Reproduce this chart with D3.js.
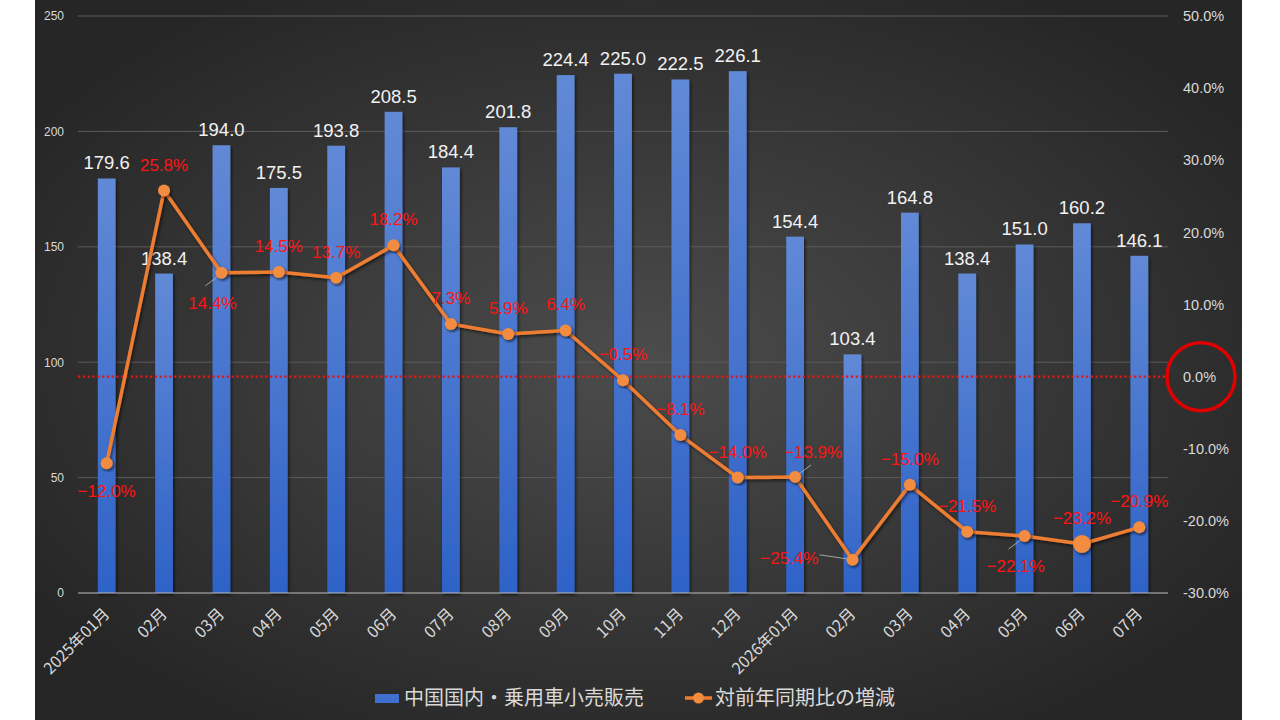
<!DOCTYPE html>
<html>
<head>
<meta charset="utf-8">
<script src="https://cdn.jsdelivr.net/npm/d3@7"></script>
<style>
  html, body { margin: 0; padding: 0; background: #fff; }
  svg { display: block; }
</style>
</head>
<body>
<svg id="chart" width="1280" height="720"></svg>
<script>
// data
const months = ["2025年01月", "02月", "03月", "04月", "05月", "06月", "07月", "08月", "09月", "10月",
  "11月", "12月", "2026年01月", "02月", "03月", "04月", "05月", "06月", "07月"];
const sales = [179.6, 138.4, 194.0, 175.5, 193.8, 208.5, 184.4, 201.8, 224.4, 225.0,
  222.5, 226.1, 154.4, 103.4, 164.8, 138.4, 151.0, 160.2, 146.1];
const yoy = [-12.0, 25.8, 14.4, 14.5, 13.7, 18.2, 7.3, 5.9, 6.4, -0.5,
  -8.1, -14.0, -13.9, -25.4, -15.0, -21.5, -22.1, -23.2, -20.9];
const leftTicks = [0, 50, 100, 150, 200, 250];
const rightTicks = [-30, -20, -10, 0, 10, 20, 30, 40, 50];
// where each percent label sits relative to its point
const pctPlace = ["below", "above", "belowLeft", "above", "above", "above", "above", "above", "above", "above",
  "above", "above", "aboveRight", "left", "above", "above", "belowLeft", "above", "above"];
const seriesNames = ["中国国内・乗用車小売販売", "対前年同期比の増減"];

const BLUE_TOP = "#6189d6", BLUE_BOT = "#2e62c7", ORANGE = "#ed7d31", MARK = "#f28c3f";
const LABEL_RED = "#ff1414", TXT = "#d9d9d9";
const FONT = "'Noto Sans CJK JP', 'Noto Sans', sans-serif";
const NUMFONT = "'Liberation Sans', Arial, sans-serif";

const svg = d3.select("#chart");
const defs = svg.append("defs");

const bg = defs.append("radialGradient").attr("id", "bg")
  .attr("cx", "50%").attr("cy", "50%").attr("r", "60%");
bg.append("stop").attr("offset", "0%").attr("stop-color", "#4c4c4c");
bg.append("stop").attr("offset", "100%").attr("stop-color", "#262626");

const barGrad = defs.append("linearGradient").attr("id", "barGrad")
  .attr("x1", 0).attr("y1", 0).attr("x2", 0).attr("y2", 1);
barGrad.append("stop").attr("offset", "0%").attr("stop-color", BLUE_TOP);
barGrad.append("stop").attr("offset", "100%").attr("stop-color", BLUE_BOT);

const shadow = defs.append("filter").attr("id", "shadow")
  .attr("x", "-20%").attr("y", "-20%").attr("width", "140%").attr("height", "140%");
shadow.append("feDropShadow").attr("dx", 1.5).attr("dy", 2).attr("stdDeviation", 1.5)
  .attr("flood-color", "#000").attr("flood-opacity", 0.55);

svg.append("rect").attr("x", 35).attr("y", 0).attr("width", 1207).attr("height", 720)
  .attr("fill", "url(#bg)");

const plot = { left: 78, right: 1168, top: 16, bottom: 593 };

const x = d3.scaleBand().domain(d3.range(months.length))
  .range([plot.left, plot.right]).paddingInner(0.69).paddingOuter(0.345);
const yL = d3.scaleLinear().domain([0, 250]).range([plot.bottom, plot.top]);
const yR = d3.scaleLinear().domain([-30, 50]).range([plot.bottom, plot.top]);
const cx = i => x(i) + x.bandwidth() / 2;

// gridlines
svg.append("g").selectAll("line").data(leftTicks.filter(d => d > 0)).join("line")
  .attr("x1", plot.left).attr("x2", plot.right)
  .attr("y1", d => yL(d)).attr("y2", d => yL(d))
  .attr("stroke", "#5c5c5c").attr("stroke-width", 1);

// left axis
const axL = svg.append("g").attr("transform", `translate(${plot.left - 14},0)`)
  .call(d3.axisLeft(yL).tickValues(leftTicks).tickSize(0).tickPadding(0));
axL.select(".domain").remove();
axL.selectAll("text").attr("fill", TXT).style("font-family", NUMFONT).style("font-size", "12px");

// right axis
const axR = svg.append("g").attr("transform", `translate(${plot.right + 15},0)`)
  .call(d3.axisRight(yR).tickValues(rightTicks).tickSize(0).tickPadding(0)
    .tickFormat(d => d.toFixed(1) + "%"));
axR.select(".domain").remove();
axR.selectAll("text").attr("fill", TXT).style("font-family", NUMFONT).style("font-size", "14.5px");

// bars
svg.append("g").selectAll("rect").data(sales).join("rect")
  .attr("x", (d, i) => x(i)).attr("width", x.bandwidth())
  .attr("y", d => yL(d)).attr("height", d => yL(0) - yL(d))
  .attr("fill", "url(#barGrad)").attr("filter", "url(#shadow)");

// baseline
svg.append("line").attr("x1", plot.left).attr("x2", plot.right)
  .attr("y1", yL(0)).attr("y2", yL(0)).attr("stroke", "#bfbfbf").attr("stroke-width", 1);

// bar value labels
svg.append("g").selectAll("text").data(sales).join("text")
  .attr("x", (d, i) => cx(i)).attr("y", d => yL(d) - 9)
  .attr("text-anchor", "middle").attr("fill", "#f2f2f2")
  .style("font-family", NUMFONT).style("font-size", "18.5px")
  .text(d => d.toFixed(1));

// category labels
svg.append("g").selectAll("text").data(months).join("text")
  .attr("transform", (d, i) => `translate(${cx(i) + 4},${plot.bottom + 22}) rotate(-45)`)
  .attr("text-anchor", "end").attr("fill", TXT)
  .style("font-family", FONT).style("font-size", "16px")
  .text(d => d);

// zero reference line
svg.append("line").attr("x1", plot.left).attr("x2", plot.right)
  .attr("y1", yR(0)).attr("y2", yR(0))
  .attr("stroke", "#e81414").attr("stroke-width", 2.4).attr("stroke-dasharray", "2.2,2.6");

// line series
const line = d3.line().x((d, i) => cx(i)).y(d => yR(d));
svg.append("path").datum(yoy).attr("d", line)
  .attr("fill", "none").attr("stroke", ORANGE).attr("stroke-width", 3.5)
  .attr("stroke-linejoin", "round").attr("filter", "url(#shadow)");

// leader lines for displaced labels
const offsets = {
  above: [0, -20, "middle"],
  below: [0, 34, "middle"],
  belowLeft: [-9, 36, "middle"],
  aboveRight: [18, -19, "middle"],
  left: [-34, 4, "end"]
};
const leaders = yoy.map((d, i) => ({ d, i, p: pctPlace[i] }))
  .filter(o => o.p === "belowLeft" || o.p === "aboveRight" || o.p === "left");
svg.append("g").selectAll("line").data(leaders).join("line")
  .attr("x1", o => cx(o.i) + (o.p === "left" ? -6 : o.p === "aboveRight" ? 4 : -4))
  .attr("y1", o => yR(o.d) + (o.p === "left" ? -1 : o.p === "aboveRight" ? -3 : 4))
  .attr("x2", o => cx(o.i) + (o.p === "left" ? -33 : o.p === "aboveRight" ? 16 : -16))
  .attr("y2", o => yR(o.d) + (o.p === "left" ? -5 : o.p === "aboveRight" ? -12 : 13))
  .attr("stroke", "#bfbfbf").attr("stroke-width", 0.8);

// markers
svg.append("g").selectAll("circle").data(yoy).join("circle")
  .attr("cx", (d, i) => cx(i)).attr("cy", d => yR(d))
  .attr("r", (d, i) => i === 17 ? 9 : 6)
  .attr("fill", MARK).attr("filter", "url(#shadow)");

// percent labels
svg.append("g").selectAll("text").data(yoy).join("text")
  .attr("x", (d, i) => cx(i) + offsets[pctPlace[i]][0])
  .attr("y", (d, i) => yR(d) + offsets[pctPlace[i]][1])
  .attr("text-anchor", (d, i) => offsets[pctPlace[i]][2])
  .attr("fill", LABEL_RED)
  .style("font-family", NUMFONT).style("font-size", "17px")
  .text(d => (d < 0 ? "\u2212" + Math.abs(d).toFixed(1) : d.toFixed(1)) + "%");

// red circle around 0.0%
svg.append("circle").attr("cx", 1201).attr("cy", yR(0)).attr("r", 34)
  .attr("fill", "none").attr("stroke", "#e00000").attr("stroke-width", 3.5);

// legend
const leg = svg.append("g").attr("transform", "translate(0,698)");
leg.append("rect").attr("x", 375).attr("y", -4).attr("width", 24).attr("height", 9)
  .attr("fill", "#3f70cf");
leg.append("text").attr("x", 404).attr("y", 0).attr("dy", "0.36em")
  .attr("fill", TXT).style("font-family", FONT).style("font-size", "20px")
  .text(seriesNames[0]);
leg.append("line").attr("x1", 685).attr("x2", 712).attr("y1", 0).attr("y2", 0)
  .attr("stroke", ORANGE).attr("stroke-width", 3.5);
leg.append("circle").attr("cx", 698.5).attr("cy", 0).attr("r", 5.5).attr("fill", MARK);
leg.append("text").attr("x", 715).attr("y", 0).attr("dy", "0.36em")
  .attr("fill", TXT).style("font-family", FONT).style("font-size", "20px")
  .text(seriesNames[1]);
</script>
</body>
</html>
